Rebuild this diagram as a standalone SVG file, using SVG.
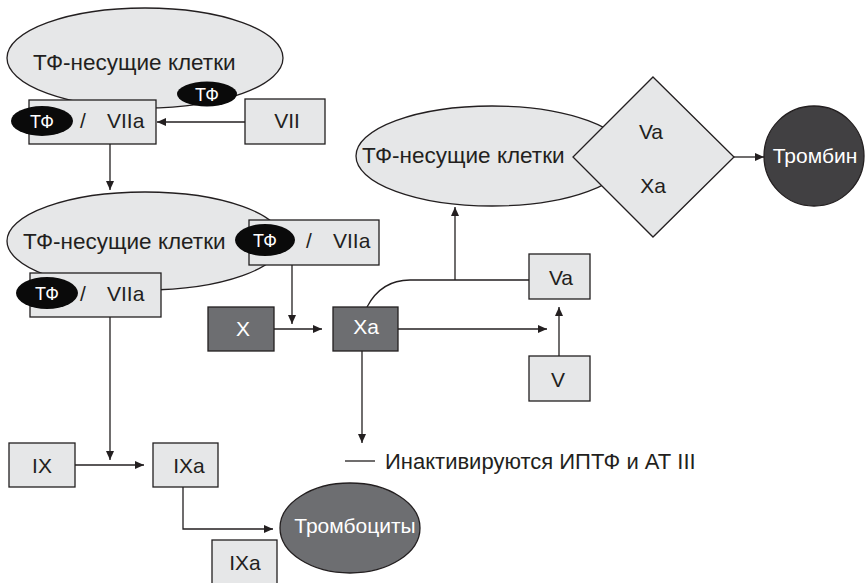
<svg xmlns="http://www.w3.org/2000/svg" width="865" height="583" viewBox="0 0 865 583">
<defs>
<marker id="ah" markerUnits="userSpaceOnUse" markerWidth="10" markerHeight="9" refX="9" refY="4" orient="auto">
<path d="M0,0 L9,4 L0,8 z" fill="#231f20"/>
</marker>
<style>
.lt{fill:#e6e7e8;stroke:#231f20;stroke-width:1.3}
.dk{fill:#6d6e71;stroke:#231f20;stroke-width:1.3}
.bl{fill:#0a0a0a;stroke:none}
.ln{fill:none;stroke:#231f20;stroke-width:1.3}
.ar{fill:none;stroke:#231f20;stroke-width:1.3;marker-end:url(#ah)}
text{font-family:"Liberation Sans",Arial,sans-serif;font-size:21px;fill:#231f20}
.w{fill:#ffffff}
.c{text-anchor:middle}
.tf{font-size:18px;fill:#ffffff;text-anchor:middle}
.el{font-size:22.5px}
.note{font-size:22px}
</style>
</defs>
<rect width="865" height="583" fill="#ffffff"/>

<g id="connectors">
<path class="ar" d="M245,122 H157"/>
<path class="ar" d="M110,144 V190"/>
<path class="ar" d="M110,317 V460"/>
<path class="ar" d="M75,465 H144"/>
<path class="ar" d="M183,487 V529 H273"/>
<path class="ar" d="M292,265 V324"/>
<path class="ar" d="M274,329 H322"/>
<path class="ar" d="M398,329 H547"/>
<path class="ar" d="M559,356 V307"/>
<path class="ln" d="M367,307 C377,288 391,280 410,280 H529"/>
<path class="ar" d="M455,280 V207"/>
<path class="ar" d="M362,351 V443"/>
<path class="ar" d="M734,157 H764"/>
<path class="ln" d="M345,461 H375"/>
</g>

<g id="cells-top">
<ellipse class="lt" cx="145" cy="58" rx="138" ry="50"/>
<text class="el" x="33" y="70">ТФ-несущие клетки</text>
</g>
<g id="tf-viia-1">
<rect class="lt" x="29" y="100" width="127" height="44"/>
<ellipse class="bl" cx="42" cy="121" rx="31" ry="15"/>
<text class="tf" x="42" y="128">ТФ</text>
<text x="80" y="128">/</text>
<text x="107" y="128">VIIa</text>
</g>
<g id="tf-top">
<ellipse class="bl" cx="207" cy="94" rx="30" ry="12.5"/>
<text class="tf" x="207" y="101">ТФ</text>
</g>
<g id="vii">
<rect class="lt" x="245" y="99" width="80" height="45"/>
<text class="c" x="287" y="128">VII</text>
</g>

<g id="cells-mid">
<ellipse class="lt" cx="145" cy="241" rx="138" ry="49"/>
<text class="el" x="23" y="249">ТФ-несущие клетки</text>
</g>
<g id="tf-viia-2">
<rect class="lt" x="249" y="220" width="130" height="45"/>
<ellipse class="bl" cx="265" cy="240" rx="30" ry="16"/>
<text class="tf" x="265" y="247">ТФ</text>
<text x="306" y="248">/</text>
<text x="333" y="248">VIIa</text>
</g>
<g id="tf-viia-3">
<rect class="lt" x="30" y="273" width="131" height="44"/>
<ellipse class="bl" cx="47" cy="293" rx="31" ry="16"/>
<text class="tf" x="47" y="300">ТФ</text>
<text x="80" y="301">/</text>
<text x="107" y="301">VIIa</text>
</g>

<g id="x">
<rect class="dk" x="208" y="307" width="66" height="44"/>
<text class="c w" x="243" y="336">X</text>
</g>
<g id="xa">
<rect class="dk" x="333" y="307" width="65" height="44"/>
<text class="c w" x="366" y="334">Xa</text>
</g>
<g id="va">
<rect class="lt" x="529" y="254" width="61" height="45"/>
<text class="c" x="561" y="285">Va</text>
</g>
<g id="v">
<rect class="lt" x="529" y="356" width="61" height="45"/>
<text class="c" x="558" y="387">V</text>
</g>

<g id="cells-right">
<ellipse class="lt" cx="492" cy="156" rx="136" ry="50"/>
<text class="el" x="362" y="163">ТФ-несущие клетки</text>
</g>
<g id="complex">
<polygon class="lt" points="653,77 734,157 653,237 573,157"/>
<text class="c" x="651" y="139">Va</text>
<text class="c" x="653" y="193">Xa</text>
</g>
<g id="thrombin">
<circle cx="814" cy="156" r="50" fill="#414042" stroke="#231f20" stroke-width="1.3"/>
<text class="c w" x="815" y="163">Тромбин</text>
</g>

<g id="inactivation">
<text class="note" x="385" y="469">Инактивируются ИПТФ и АТ III</text>
</g>

<g id="ix">
<rect class="lt" x="9" y="443" width="66" height="44"/>
<text class="c" x="42" y="473">IX</text>
</g>
<g id="ixa">
<rect class="lt" x="153" y="443" width="65" height="44"/>
<text class="c" x="189" y="473">IXa</text>
</g>
<g id="platelets">
<ellipse class="dk" cx="350" cy="528" rx="70" ry="45"/>
<text class="c w" x="355" y="533">Тромбоциты</text>
</g>
<g id="ixa-2">
<rect class="lt" x="212" y="540" width="65" height="50"/>
<text class="c" x="245" y="570">IXa</text>
</g>
</svg>
